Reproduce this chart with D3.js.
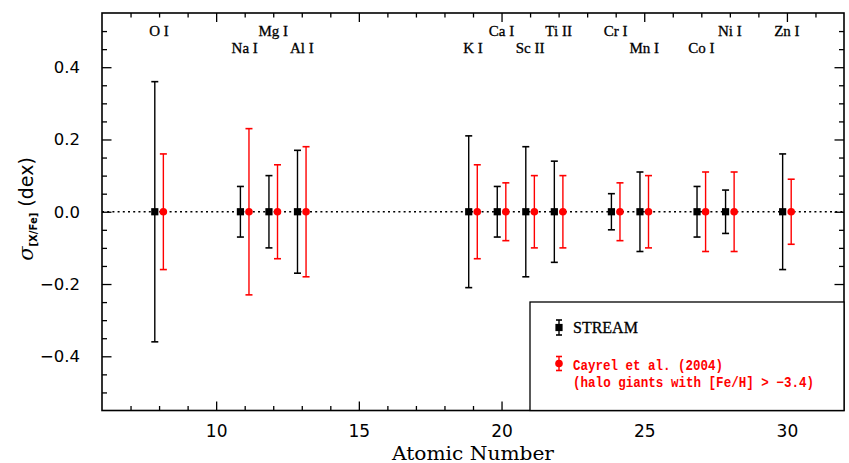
<!DOCTYPE html>
<html>
<head>
<meta charset="utf-8">
<script src="https://cdn.jsdelivr.net/npm/d3@7"></script>
<style>
  html, body { margin: 0; padding: 0; background: #fff; }
  svg { display: block; }
</style>
</head>
<body>
<svg id="chart" width="849" height="463"></svg>
<script>
// Elements (atomic number and label) and abundance-ratio dispersions
const atomicNumbers = [8, 11, 12, 13, 19, 20, 21, 22, 24, 25, 27, 28, 30];
const elementLabels = ["O I", "Na I", "Mg I", "Al I", "K I", "Ca I", "Sc II", "Ti II", "Cr I", "Mn I", "Co I", "Ni I", "Zn I"];
const labelRow      = [0, 1, 0, 1, 1, 0, 1, 0, 0, 1, 1, 0, 0];
const sigmaStream   = [0.36, 0.07, 0.10, 0.17, 0.21, 0.07, 0.18, 0.14, 0.05, 0.11, 0.07, 0.06, 0.16];
const sigmaCayrel   = [0.16, 0.23, 0.13, 0.18, 0.13, 0.08, 0.10, 0.10, 0.08, 0.10, 0.11, 0.11, 0.09];
const xTicks = [10, 15, 20, 25, 30];
const yTicks = [-0.4, -0.2, 0.0, 0.2, 0.4];

const svg = d3.select("#chart");
const plotL = 102, plotR = 844, plotT = 13, plotB = 410.5;

const x = d3.scaleLinear().domain([6, 32]).range([plotL, plotR]);
const y = d3.scaleLinear().domain([-0.55, 0.55]).range([plotB, plotT]);

const fmtY = v => (v < 0 ? "\u2212" : "") + Math.abs(v).toFixed(1);

// ---- axes: ticks drawn inward on all four sides ----
const minorX = d3.range(7, 32, 1).filter(v => v % 5 !== 0);
const minorY = d3.range(-0.5, 0.55, 0.05).map(v => +v.toFixed(2)).filter(v => Math.abs(Math.round(v * 100) % 20) !== 0);

function styleAxis(g) {
  g.select(".domain").remove();
  g.selectAll(".tick line").attr("stroke", "#000").attr("stroke-width", 1.3);
}

// bottom
svg.append("g").attr("transform", `translate(0,${plotB})`)
  .call(d3.axisBottom(x).tickValues(xTicks).tickSizeInner(-9).tickSizeOuter(0).tickPadding(14).tickFormat(d3.format("d")))
  .call(styleAxis)
  .call(g => g.selectAll("text").attr("font-family", "DejaVu Sans").attr("font-size", 17).attr("fill", "#000"));
svg.append("g").attr("transform", `translate(0,${plotB})`)
  .call(d3.axisBottom(x).tickValues(minorX).tickSizeInner(-4.5).tickSizeOuter(0).tickFormat(""))
  .call(styleAxis);
// top
svg.append("g").attr("transform", `translate(0,${plotT})`)
  .call(d3.axisTop(x).tickValues(xTicks).tickSizeInner(-9).tickSizeOuter(0).tickFormat(""))
  .call(styleAxis);
svg.append("g").attr("transform", `translate(0,${plotT})`)
  .call(d3.axisTop(x).tickValues(minorX).tickSizeInner(-4.5).tickSizeOuter(0).tickFormat(""))
  .call(styleAxis);
// left
svg.append("g").attr("transform", `translate(${plotL},0)`)
  .call(d3.axisLeft(y).tickValues(yTicks).tickSizeInner(-9.5).tickSizeOuter(0).tickPadding(22).tickFormat(fmtY))
  .call(styleAxis)
  .call(g => g.selectAll("text").attr("font-family", "DejaVu Sans").attr("font-size", 16.5).attr("fill", "#000"));
svg.append("g").attr("transform", `translate(${plotL},0)`)
  .call(d3.axisLeft(y).tickValues(minorY).tickSizeInner(-5).tickSizeOuter(0).tickFormat(""))
  .call(styleAxis);
// right
svg.append("g").attr("transform", `translate(${plotR},0)`)
  .call(d3.axisRight(y).tickValues(yTicks).tickSizeInner(-9.5).tickSizeOuter(0).tickFormat(""))
  .call(styleAxis);
svg.append("g").attr("transform", `translate(${plotR},0)`)
  .call(d3.axisRight(y).tickValues(minorY).tickSizeInner(-5).tickSizeOuter(0).tickFormat(""))
  .call(styleAxis);

// frame
svg.append("rect")
  .attr("x", plotL).attr("y", plotT)
  .attr("width", plotR - plotL).attr("height", plotB - plotT)
  .attr("fill", "none").attr("stroke", "#000").attr("stroke-width", 1.6);

// zero reference line
svg.append("line")
  .attr("x1", plotL).attr("x2", plotR)
  .attr("y1", y(0)).attr("y2", y(0))
  .attr("stroke", "#000").attr("stroke-width", 1.6)
  .attr("stroke-dasharray", "2,3.2");

// element labels in two staggered rows
svg.append("g").selectAll("text")
  .data(atomicNumbers)
  .join("text")
  .attr("x", d => x(d))
  .attr("y", (d, i) => labelRow[i] ? 53 : 36)
  .attr("text-anchor", "middle")
  .attr("font-family", "Liberation Serif")
  .attr("font-size", 15)
  .attr("fill", "#000")
  .attr("stroke", "#000").attr("stroke-width", 0.3)
  .text((d, i) => elementLabels[i]);

// error bars with markers
const off = 0.15, cap = 3.5;
function drawSeries(sig, dx, color, width, marker) {
  const g = svg.append("g");
  const pts = atomicNumbers.map((z, i) => ({ z: z + dx, s: sig[i] }));
  g.selectAll("line.bar").data(pts).join("line")
    .attr("x1", d => x(d.z)).attr("x2", d => x(d.z))
    .attr("y1", d => y(d.s)).attr("y2", d => y(-d.s))
    .attr("stroke", color).attr("stroke-width", width);
  g.selectAll("line.capTop").data(pts).join("line")
    .attr("x1", d => x(d.z) - cap).attr("x2", d => x(d.z) + cap)
    .attr("y1", d => y(d.s)).attr("y2", d => y(d.s))
    .attr("stroke", color).attr("stroke-width", 1.6);
  g.selectAll("line.capBot").data(pts).join("line")
    .attr("x1", d => x(d.z) - cap).attr("x2", d => x(d.z) + cap)
    .attr("y1", d => y(-d.s)).attr("y2", d => y(-d.s))
    .attr("stroke", color).attr("stroke-width", 1.6);
  if (marker === "square") {
    g.selectAll("rect").data(pts).join("rect")
      .attr("x", d => x(d.z) - 3.6).attr("y", y(0) - 3.6)
      .attr("width", 7.2).attr("height", 7.2).attr("fill", color);
  } else {
    g.selectAll("circle").data(pts).join("circle")
      .attr("cx", d => x(d.z)).attr("cy", y(0)).attr("r", 3.8).attr("fill", color);
  }
}
drawSeries(sigmaStream, -off, "#000", 1.4, "square");
drawSeries(sigmaCayrel, off, "#ff0000", 1.4, "circle");

// legend
const lg = svg.append("g");
lg.append("rect")
  .attr("x", 530).attr("y", 302)
  .attr("width", plotR - 530).attr("height", plotB - 302)
  .attr("fill", "#fff").attr("stroke", "#000").attr("stroke-width", 1.3);
function legendMark(cx, cy, h, color, marker) {
  lg.append("line").attr("x1", cx).attr("x2", cx).attr("y1", cy - h).attr("y2", cy + h)
    .attr("stroke", color).attr("stroke-width", 1.4);
  [cy - h, cy + h].forEach(yy => lg.append("line")
    .attr("x1", cx - 3).attr("x2", cx + 3).attr("y1", yy).attr("y2", yy)
    .attr("stroke", color).attr("stroke-width", 1.6));
  if (marker === "square") {
    lg.append("rect").attr("x", cx - 3.6).attr("y", cy - 3.6).attr("width", 7.2).attr("height", 7.2).attr("fill", color);
  } else {
    lg.append("circle").attr("cx", cx).attr("cy", cy).attr("r", 3.8).attr("fill", color);
  }
}
legendMark(559, 327.5, 7.5, "#000", "square");
legendMark(559, 363.5, 7, "#ff0000", "circle");
lg.append("text").attr("x", 573).attr("y", 333)
  .attr("font-family", "Liberation Serif").attr("font-size", 16).attr("fill", "#000")
  .attr("stroke", "#000").attr("stroke-width", 0.3)
  .text("STREAM");
lg.append("text").attr("x", 573).attr("y", 370)
  .attr("font-family", "Liberation Mono").attr("font-weight", "bold").attr("font-size", 14)
  .attr("fill", "#ff0000").attr("textLength", 150).attr("lengthAdjust", "spacingAndGlyphs")
  .text("Cayrel et al. (2004)");
lg.append("text").attr("x", 573).attr("y", 387)
  .attr("font-family", "Liberation Mono").attr("font-weight", "bold").attr("font-size", 14)
  .attr("fill", "#ff0000").attr("textLength", 241).attr("lengthAdjust", "spacingAndGlyphs")
  .text("(halo giants with [Fe/H] > \u22123.4)");

// axis titles
svg.append("text")
  .attr("x", (plotL + plotR) / 2).attr("y", 460)
  .attr("text-anchor", "middle")
  .attr("font-family", "DejaVu Serif").attr("font-size", 19)
  .attr("textLength", 162).attr("lengthAdjust", "spacingAndGlyphs")
  .attr("fill", "#000")
  .text("Atomic Number");

const yl = svg.append("text")
  .attr("transform", "translate(33,209) rotate(-90)")
  .attr("text-anchor", "middle")
  .attr("fill", "#000");
yl.append("tspan").attr("font-family", "DejaVu Serif").attr("font-style", "italic").attr("font-size", 21).text("\u03c3");
yl.append("tspan").attr("font-family", "DejaVu Sans").attr("font-weight", "bold").attr("font-size", 10).attr("dy", 3.5).text("[X/Fe]");
yl.append("tspan").attr("font-family", "DejaVu Sans").attr("font-size", 19).attr("dy", -3.5).text("\u00a0(dex)");
</script>
</body>
</html>
